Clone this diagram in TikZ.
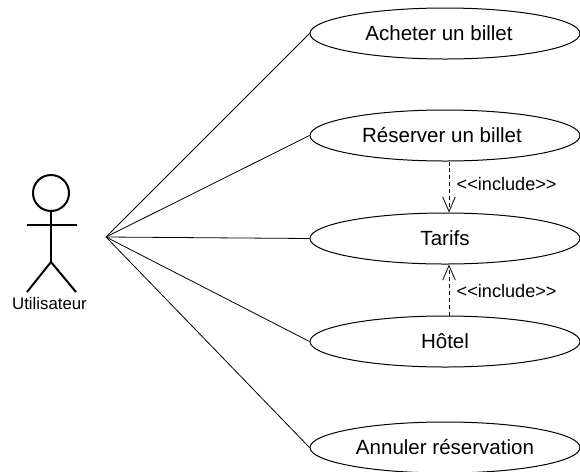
\documentclass[tikz,border=0pt]{standalone}
\usepackage{fontspec}
\usepackage{tikz}
\usetikzlibrary{matrix,arrows.meta,shapes.geometric}
\setmainfont{Liberation Sans}

\begin{document}
\begin{tikzpicture}[x=.75pt, y=.75pt, line width=.75pt,
	usecase/.style={draw, ellipse, minimum width=202.5pt, minimum height=38.25pt, inner sep=0pt, font=\fontsize{15.4}{17}\selectfont},
	limb/.style={line width=1.5pt},
	assoc/.style={line width=.6pt},
	include/.style={dashed, line width=.6pt, dash pattern=on 3pt off 2.2pt, -{Straight Barb[length=11pt, width=9.5pt]}},
	stereo/.style={font=\fontsize{13.6}{15}\selectfont, inner sep=0pt, anchor=west}]
	\useasboundingbox (0,0) rectangle (580,-471);
	\matrix(m)[matrix of nodes, nodes={usecase}, anchor=north, inner sep=0pt, row sep=37.5pt] at (445,-7){
		Acheter un billet\hspace{9pt}	\\
		Réserver un billet\hspace{4.5pt}	\\[.75pt]
		Tarifs	\\[.75pt]
		Hôtel	\\[3pt]
		Annuler réservation	\\
	};
	% actor
	\node (head) [draw, circle, limb, minimum size=27pt, inner sep=0pt] at (51,-193) {};
	\coordinate (hip) at (51,-262);
	\coordinate (armL) at (27,-225);
	\coordinate (armR) at (77,-225);
	\coordinate (footL) at (27,-292);
	\coordinate (footR) at (76,-292);
	\draw[limb] (head.south) -- (hip);
	\draw[limb] (armL) -- (armR);
	\draw[limb] (footL) -- (hip) -- (footR);
	\node (user) [font=\fontsize{12.6}{14}\selectfont, inner sep=0pt] at (49.5,-303.5) {Utilisateur};
	% associations
	\coordinate (hub) at (106,-237);
	\foreach \i in {1,...,5}
		\draw[assoc] (hub) -- (m-\i-1.west);
	% includes
	\draw[include] ([xshift=3pt]m-2-1.south) -- ([xshift=3pt]m-3-1.north) node[stereo, midway, xshift=5.5pt, yshift=2pt] (inc1) {<{}<include>{}>};
	\draw[include] ([xshift=3pt]m-4-1.north) -- ([xshift=3pt]m-3-1.south) node[stereo, midway, xshift=5.5pt, yshift=-.5pt] (inc2) {<{}<include>{}>};
\end{tikzpicture}
\end{document}
